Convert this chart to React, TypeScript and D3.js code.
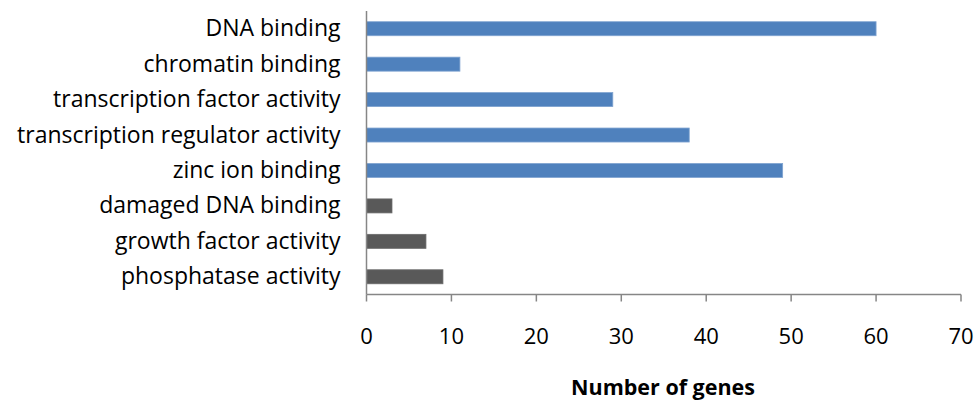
import React from "react";
import * as d3 from "d3";

const categories = [
  "DNA binding",
  "chromatin binding",
  "transcription factor activity",
  "transcription regulator activity",
  "zinc ion binding",
  "damaged DNA binding",
  "growth factor activity",
  "phosphatase activity",
];
const values = [60, 11, 29, 38, 49, 3, 7, 9];
const groups = ["blue", "blue", "blue", "blue", "blue", "grey", "grey", "grey"];
const xTicks = [0, 10, 20, 30, 40, 50, 60, 70];
const xTitle = "Number of genes";

const W = 979;
const H = 401;
const FONT = "'Open Sans', sans-serif";

export default function App() {
  const x = d3.scaleLinear().domain([0, 70]).range([366.5, 961]);
  const y = d3
    .scaleBand<string>()
    .domain(categories)
    .range([11, 294.5])
    .paddingInner(0.605)
    .paddingOuter(0.3025);
  const colors: Record<string, string> = { blue: "#4F81BD", grey: "#595959" };
  const axisY = 294.5;
  return (
    <svg width={W} height={H} style={{ position: "absolute", left: 0, top: 0, background: "#fff" }}>
      {categories.map((c, i) => (
        <rect
          key={c}
          x={x(0)}
          y={y(c)!}
          width={x(values[i]) - x(0)}
          height={y.bandwidth()}
          fill={colors[groups[i]]}
          stroke={groups[i] === "blue" ? "#7fa3d0" : "#6a6a6a"}
          strokeWidth={0.8}
        />
      ))}
      <line x1={x(0)} x2={x(0)} y1={11} y2={axisY} stroke="#868686" strokeWidth={1.5} />
      <line x1={x(0)} x2={x(70)} y1={axisY} y2={axisY} stroke="#868686" strokeWidth={1.5} />
      {xTicks.map((t) => (
        <g key={t}>
          <line x1={x(t)} x2={x(t)} y1={axisY} y2={axisY + 7} stroke="#868686" strokeWidth={1.5} />
          <text x={x(t)} y={344} textAnchor="middle" fontFamily={FONT} fontSize={22} fill="#000">
            {t}
          </text>
        </g>
      ))}
      {categories.map((c) => (
        <text
          key={c}
          x={340.5}
          y={y(c)! + y.bandwidth() / 2}
          dy="0.33em"
          textAnchor="end"
          fontFamily={FONT}
          fontSize={23}
          fill="#000"
        >
          {c}
        </text>
      ))}
      <text x={663} y={395} textAnchor="middle" fontFamily={FONT} fontSize={21.5} fontWeight="bold" fill="#000">
        {xTitle}
      </text>
    </svg>
  );
}
